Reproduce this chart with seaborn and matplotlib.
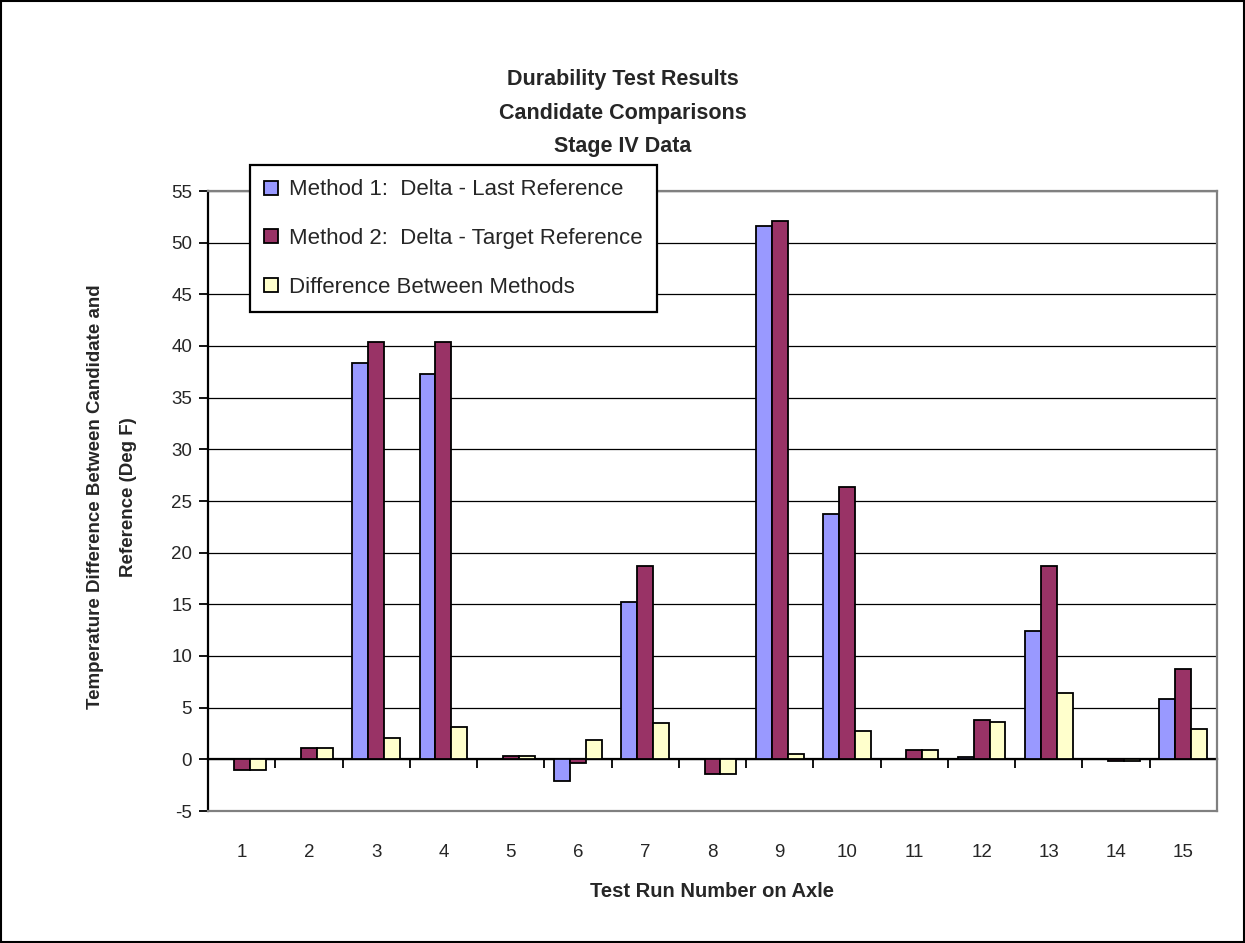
import numpy as np
import pandas as pd
import matplotlib
matplotlib.use("Agg")
import matplotlib.pyplot as plt
import seaborn as sns
from matplotlib.patches import Rectangle

# values
runs = [str(i) for i in range(1, 16)]
method1 = [0.0, 0.0, 38.4, 37.3, 0.0, -2.1, 15.2, 0.0, 51.6, 23.7, 0.0, 0.2, 12.4, 0.0, 5.8]
method2 = [-1.0, 1.1, 40.4, 40.4, 0.35, -0.4, 18.7, -1.4, 52.1, 26.4, 0.95, 3.85, 18.7, -0.15, 8.75]
difference = [-1.0, 1.1, 2.1, 3.1, 0.35, 1.9, 3.5, -1.4, 0.55, 2.7, 0.95, 3.65, 6.4, -0.15, 2.9]

series_names = ["Method 1:  Delta - Last Reference",
                "Method 2:  Delta - Target Reference",
                "Difference Between Methods"]
colors = ["#9999FF", "#993366", "#FFFFCC"]

df = pd.DataFrame({
    "Run": runs * 3,
    "Value": method1 + method2 + difference,
    "Series": [s for s in series_names for _ in runs],
})

sns.set_style("white")
plt.rcParams['font.family'] = ['Liberation Sans', 'DejaVu Sans']
plt.rcParams['axes.unicode_minus'] = False

fig = plt.figure(figsize=(12.45, 9.43), dpi=100)
ax = fig.add_axes([208 / 1245, 1 - 811 / 943, 1009 / 1245, 620 / 943])

sns.barplot(data=df, x="Run", y="Value", hue="Series", order=runs,
            hue_order=series_names, palette=colors, width=0.71, gap=0,
            edgecolor="black", linewidth=1.3, saturation=1, ax=ax, zorder=3)

ymin, ymax = -5, 55
ax.set_ylim(ymin, ymax)
ax.set_xlim(-0.5, len(runs) - 0.5)
ax.set_yticks(np.arange(ymin, ymax + 1, 5))
ax.yaxis.grid(True, color="black", linewidth=0.9)
ax.set_axisbelow(True)

for side in ["top", "right", "bottom"]:
    ax.spines[side].set_color("#808080")
    ax.spines[side].set_linewidth(1.6)
ax.spines["left"].set_color("black")
ax.spines["left"].set_linewidth(1.6)

ax.tick_params(axis="y", direction="out", length=6.5, width=1.3, color="black",
               labelsize=13.5, pad=5, left=True)
ax.tick_params(axis="x", length=0, labelsize=13.5, pad=24)
ax.set_xlabel("Test Run Number on Axle", fontsize=14.5, fontweight="bold", labelpad=15)
ax.set_ylabel("")

# category axis crossing at zero, with tick marks between categories
zero_pos = (0 - ymin) / (ymax - ymin)
sec = ax.secondary_xaxis(zero_pos)
sec.set_xticks(np.arange(len(runs) + 1) - 0.5)
sec.set_xticklabels([])
sec.tick_params(axis="x", direction="out", length=6.5, width=1.3, color="black")
sec.spines["bottom"].set_color("black")
sec.spines["bottom"].set_linewidth(1.6)

ax.get_legend().remove()
handles, labels = ax.get_legend_handles_labels()
leg = fig.legend(handles, labels, loc="upper left",
                 bbox_to_anchor=(250 / 1245, 1 - 165 / 943), borderaxespad=0,
                 fontsize=16, frameon=True, fancybox=False, edgecolor="black",
                 framealpha=1, handlelength=0.6, handleheight=0.6,
                 handletextpad=0.5, labelspacing=1.25, borderpad=0.65)
leg.get_frame().set_linewidth(1.6)

fig.text(0.5, 1 - 113 / 943,
         "Durability Test Results\nCandidate Comparisons\nStage IV Data",
         ha="center", va="center", fontsize=15.5, fontweight="bold",
         linespacing=1.78)

fig.text(112 / 1245, 1 - 497 / 943,
         "Temperature Difference Between Candidate and\nReference (Deg F)",
         rotation=90, ha="center", va="center", fontsize=13.5,
         fontweight="bold", multialignment="center", linespacing=2.2)

fig.patches.append(Rectangle((0.001, 0.001), 0.998, 0.998,
                             transform=fig.transFigure, fill=False,
                             edgecolor="black", linewidth=1.5))

plt.savefig("out.png", dpi=100)
